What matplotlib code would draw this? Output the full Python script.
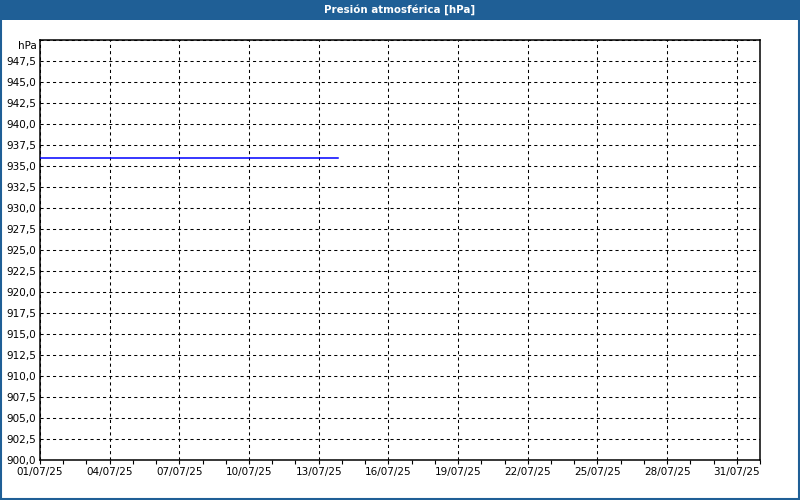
import matplotlib
matplotlib.use("Agg")
import matplotlib.pyplot as plt
import matplotlib.dates as mdates
from matplotlib.patches import Rectangle
from matplotlib.ticker import FuncFormatter, MultipleLocator, FixedLocator
import pandas as pd

# ---- data ----
title = "Presión atmosférica [hPa]"
unit_label = "hPa"
times = ["2025-07-01 00:00", "2025-07-02 00:00", "2025-07-03 00:00", "2025-07-04 00:00",
         "2025-07-05 00:00", "2025-07-06 00:00", "2025-07-07 00:00", "2025-07-08 00:00",
         "2025-07-09 00:00", "2025-07-10 00:00", "2025-07-11 00:00", "2025-07-12 00:00",
         "2025-07-13 00:00", "2025-07-13 20:00"]
pressure = [935.9, 935.9, 935.9, 935.9, 935.9, 935.9, 935.9, 935.9,
            935.9, 935.9, 935.9, 935.9, 935.9, 935.9]
x_tick_dates = ["2025-07-01", "2025-07-04", "2025-07-07", "2025-07-10", "2025-07-13",
                "2025-07-16", "2025-07-19", "2025-07-22", "2025-07-25", "2025-07-28",
                "2025-07-31"]
x_start, x_end = "2025-07-01", "2025-08-01"
y_min, y_max, y_step = 900.0, 950.0, 2.5

plt.rcParams['font.family'] = ['DejaVu Sans']
fig = plt.figure(figsize=(8, 5), dpi=100)
fig.patch.set_facecolor('white')

frame_col = '#1f5f96'
# title bar
fig.patches.append(Rectangle((0, 480/500), 1, 20/500, transform=fig.transFigure,
                             facecolor=frame_col, edgecolor='none', zorder=0))
# window border
fig.patches.append(Rectangle((0.5/800, 1.5/500), 798/800, 490/500, transform=fig.transFigure,
                             facecolor='none', edgecolor=frame_col, linewidth=1.5, zorder=0))
fig.text(0.5, 1 - 10/500, title, ha='center', va='center', color='white',
         fontsize=7.4, fontweight='bold')

ax = fig.add_axes([40/800, 40/500, 720/800, 420/500])
t = pd.to_datetime(times)
ax.plot(t, pressure, color='#0000ff', linewidth=1.1, zorder=3)

ax.set_xlim(pd.Timestamp(x_start), pd.Timestamp(x_end))
ax.set_ylim(y_min, y_max)

ax.yaxis.set_major_locator(MultipleLocator(y_step))
def yfmt(v, pos):
    if v >= y_max - 1e-9:
        return ""
    return f"{v:.1f}".replace('.', ',')
ax.yaxis.set_major_formatter(FuncFormatter(yfmt))

ax.xaxis.set_major_locator(FixedLocator(mdates.date2num(pd.to_datetime(x_tick_dates))))
ax.xaxis.set_minor_locator(mdates.DayLocator())
ax.xaxis.set_major_formatter(mdates.DateFormatter('%d/%m/%y'))

ax.tick_params(axis='y', length=0, pad=3, labelsize=7.5, colors='black')
ax.tick_params(axis='x', which='major', length=3, width=0.8, pad=2, labelsize=7.5, direction='out')
ax.tick_params(axis='x', which='minor', length=3, width=0.8, direction='out')

ax.grid(True, which='major', color='black', linestyle=(0, (3, 3)), linewidth=0.75)
for s in ax.spines.values():
    s.set_linewidth(1.1)
    s.set_color('black')
ax.set_facecolor('white')

fig.text(37/800, 1 - 46/500, unit_label, ha='right', va='center', fontsize=7.5)

fig.savefig('out.png', dpi=100, facecolor='white')
